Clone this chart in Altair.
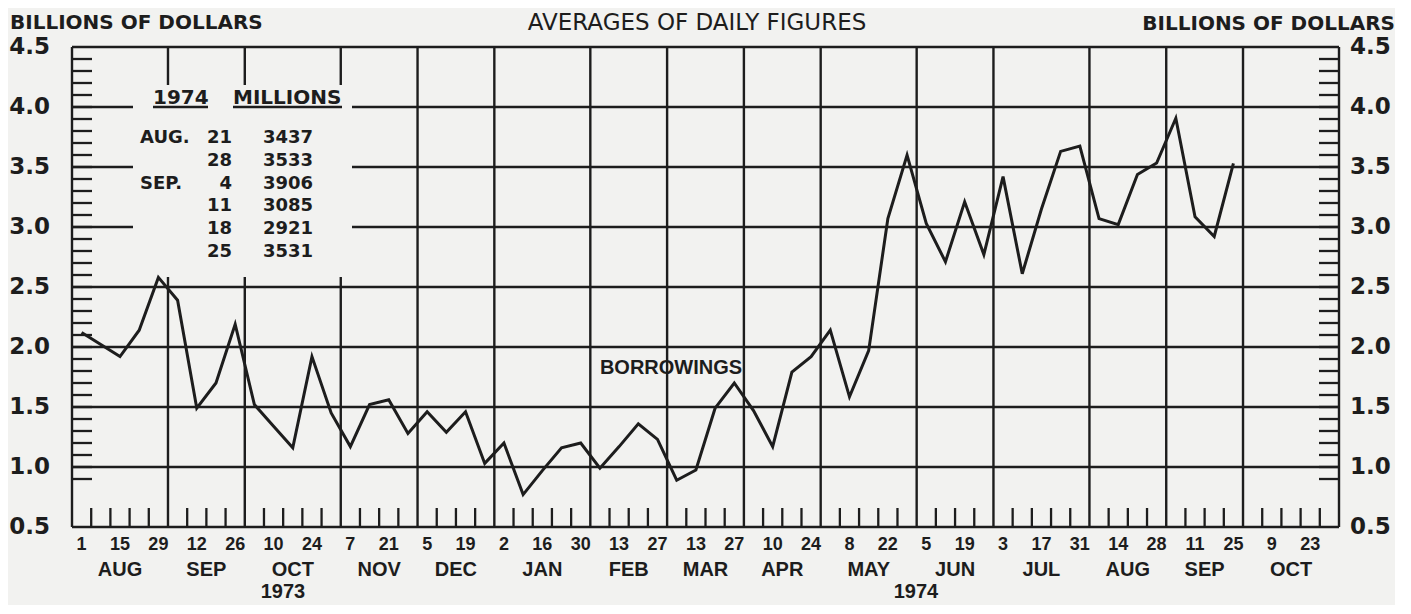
import altair as alt
import numpy as np
import pandas as pd

# ---------------------------------------------------------------- data
# Member bank borrowings, weekly averages of daily figures (billions of $),
# one value per Wednesday starting Aug 1, 1973 and ending Sep 25, 1974
BORROWINGS = [2.12, 2.02, 1.92, 2.14, 2.58, 2.39, 1.49, 1.70, 2.19, 1.52,
              1.34, 1.16, 1.92, 1.45, 1.17, 1.52, 1.56, 1.28, 1.46, 1.29,
              1.46, 1.03, 1.20, 0.77, 0.97, 1.16, 1.20, 0.99, 1.17, 1.36,
              1.23, 0.89, 0.975, 1.49, 1.70, 1.47, 1.17, 1.79, 1.92, 2.14,
              1.585, 1.97, 3.07, 3.60, 3.03, 2.71, 3.21, 2.77, 3.42, 2.61,
              3.15, 3.63, 3.675, 3.07, 3.02, 3.437, 3.533, 3.906, 3.085, 2.921,
              3.531]

MONTHS = ["AUG", "SEP", "OCT", "NOV", "DEC", "JAN", "FEB", "MAR", "APR",
          "MAY", "JUN", "JUL", "AUG", "SEP", "OCT"]
WEEKS_PER_MONTH = [5, 4, 5, 4, 4, 5, 4, 4, 4, 5, 4, 5, 4, 4, 5]
DAY_LABELS = ["1", "15", "29", "12", "26", "10", "24", "7", "21", "5", "19",
              "2", "16", "30", "13", "27", "13", "27", "10", "24", "8", "22",
              "5", "19", "3", "17", "31", "14", "28", "11", "25", "9", "23"]
YEAR_LABELS = ["1973", "1974"]
Y_TICKS = [0.5, 1.0, 1.5, 2.0, 2.5, 3.0, 3.5, 4.0, 4.5]

TABLE_HEADER = ["1974", "MILLIONS"]
TABLE_MONTH = ["AUG.", "", "SEP.", "", "", ""]
TABLE_DAY = ["21", "28", "4", "11", "18", "25"]
TABLE_MILLIONS = ["3437", "3533", "3906", "3085", "2921", "3531"]

TITLE = "AVERAGES OF DAILY FIGURES"
UNIT = "BILLIONS OF DOLLARS"
SERIES_NAME = "BORROWINGS"

# ---------------------------------------------------------------- layout
W, H = 1267, 480
N_WEEKS = sum(WEEKS_PER_MONTH)
Y0, Y1 = 0.5, 4.5
PX_X = W / N_WEEKS
PX_Y = H / (Y1 - Y0)
INK = "#1d1d1d"
BG = "#f2f2f0"


def xw(px):
    return px / PX_X


def yv(py):
    return Y1 - py / PX_Y


xs = alt.Scale(domain=[0, N_WEEKS], nice=False, zero=False)
ys = alt.Scale(domain=[Y0, Y1], nice=False, zero=False)

# gap in the grid around the inset table (plot pixels)
INSET_L, INSET_R = xw(61), xw(280)
GAP_TOP, GAP_BOT = yv(38), yv(230)

bounds = list(np.cumsum(WEEKS_PER_MONTH)[:-1])

segs = []
for lvl in [1.0, 1.5, 2.0, 2.5, 3.0, 3.5, 4.0]:
    if lvl >= 3.0:
        segs.append((0, INSET_L, lvl, lvl))
        segs.append((INSET_R, N_WEEKS, lvl, lvl))
    else:
        segs.append((0, N_WEEKS, lvl, lvl))
for b in bounds:
    if b < INSET_R:
        segs.append((b, b, Y0, GAP_BOT))
        segs.append((b, b, GAP_TOP, Y1))
    else:
        segs.append((b, b, Y0, Y1))
segs += [(0, N_WEEKS, Y0, Y0), (0, N_WEEKS, Y1, Y1), (0, 0, Y0, Y1),
         (N_WEEKS, N_WEEKS, Y0, Y1)]
# underlines of the table header
segs += [(xw(81), xw(136), 4.0, 4.0), (xw(161), xw(270), 4.0, 4.0)]
grid_df = pd.DataFrame(segs, columns=["x", "x2", "y", "y2"])

grid = alt.Chart(grid_df).mark_rule(color=INK, strokeWidth=2.4).encode(
    x=alt.X("x:Q", scale=xs, axis=None), x2="x2:Q",
    y=alt.Y("y:Q", scale=ys, axis=None), y2="y2:Q")

minor = pd.DataFrame({"y": [round(v, 1) for v in np.arange(0.9, 4.45, 0.1)]})
tick_l = alt.Chart(minor).mark_rule(color=INK, strokeWidth=2.3).encode(
    y=alt.Y("y:Q", scale=ys, axis=None), x=alt.value(0), x2=alt.value(20))
tick_r = alt.Chart(minor).mark_rule(color=INK, strokeWidth=2.3).encode(
    y=alt.Y("y:Q", scale=ys, axis=None), x=alt.value(W - 20), x2=alt.value(W))

week_ticks = pd.DataFrame({"x": [k for k in range(1, N_WEEKS) if k not in bounds]})
tick_b = alt.Chart(week_ticks).mark_rule(color=INK, strokeWidth=2.3).encode(
    x=alt.X("x:Q", scale=xs, axis=None), y=alt.value(H - 19), y2=alt.value(H))

line_df = pd.DataFrame({"x": [i + 0.5 for i in range(len(BORROWINGS))],
                        "v": BORROWINGS})
line = alt.Chart(line_df).mark_line(color=INK, strokeWidth=3,
                                    strokeJoin="miter").encode(
    x=alt.X("x:Q", scale=xs, axis=None), y=alt.Y("v:Q", scale=ys, axis=None))

ylab_df = pd.DataFrame({"y": Y_TICKS, "t": [f"{v:.1f}" for v in Y_TICKS]})
ylab_l = alt.Chart(ylab_df).mark_text(
    align="right", baseline="middle", font="DejaVu Sans", fontWeight="bold",
    fontSize=23, color=INK).encode(
    y=alt.Y("y:Q", scale=ys, axis=None), x=alt.value(-22), text="t:N")
ylab_r = alt.Chart(ylab_df).mark_text(
    align="left", baseline="middle", font="DejaVu Sans", fontWeight="bold",
    fontSize=23, color=INK).encode(
    y=alt.Y("y:Q", scale=ys, axis=None), x=alt.value(W + 11), text="t:N")

day_df = pd.DataFrame({"x": [2 * j + 0.5 for j in range(len(DAY_LABELS))],
                       "t": DAY_LABELS})
day_txt = alt.Chart(day_df).mark_text(
    align="center", baseline="middle", font="Liberation Sans",
    fontWeight="bold", fontSize=18, color=INK).encode(
    x=alt.X("x:Q", scale=xs, axis=None), y=alt.value(H + 18), text="t:N")

starts = [0] + bounds
mon_df = pd.DataFrame({"x": [s + n / 2 for s, n in zip(starts, WEEKS_PER_MONTH)],
                       "t": MONTHS})
mon_txt = alt.Chart(mon_df).mark_text(
    align="center", baseline="middle", font="Liberation Sans",
    fontWeight="bold", fontSize=20, color=INK).encode(
    x=alt.X("x:Q", scale=xs, axis=None), y=alt.value(H + 43), text="t:N")

year_df = pd.DataFrame({"x": [xw(211), xw(844)], "t": YEAR_LABELS})
year_txt = alt.Chart(year_df).mark_text(
    align="center", baseline="middle", font="Liberation Sans",
    fontWeight="bold", fontSize=20, color=INK).encode(
    x=alt.X("x:Q", scale=xs, axis=None), y=alt.value(H + 65), text="t:N")


def label(text, x, y, align, size, weight="bold", font="DejaVu Sans"):
    return alt.Chart(pd.DataFrame({"t": [text]})).mark_text(
        align=align, baseline="middle", font=font, fontWeight=weight,
        fontSize=size, color=INK).encode(
        x=alt.value(x), y=alt.value(y), text="t:N")


unit_l = label(UNIT, -62, -24, "left", 20)
unit_r = label(UNIT, 1323, -23, "right", 20)
title = label(TITLE, 625, -24, "center", 23, weight="normal")
series = label(SERIES_NAME, 599, 321, "center", 20, font="Liberation Sans")
head1 = label(TABLE_HEADER[0], 81, 51, "left", 20)
head2 = label(TABLE_HEADER[1], 161, 51, "left", 20)

rows = pd.DataFrame({"y": [yv(91 + i * 22.8) for i in range(len(TABLE_DAY))],
                     "m": TABLE_MONTH, "d": TABLE_DAY, "v": TABLE_MILLIONS})


def column(field, x, align):
    return alt.Chart(rows).mark_text(
        align=align, baseline="middle", font="DejaVu Sans", fontWeight="bold",
        fontSize=18, color=INK).encode(
        y=alt.Y("y:Q", scale=ys, axis=None), x=alt.value(x), text=f"{field}:N")


col_m = column("m", 68, "left")
col_d = column("d", 160, "right")
col_v = column("v", 241, "right")

chart = alt.layer(
    grid, tick_l, tick_r, tick_b, line, ylab_l, ylab_r, day_txt, mon_txt,
    year_txt, unit_l, unit_r, title, series, head1, head2, col_m, col_d, col_v
).properties(
    width=W, height=H, autosize="none",
    padding={"left": 64, "top": 39, "right": 56, "bottom": 78},
    background=BG,
).configure_view(strokeWidth=0)

chart.save("out.html", embed_options={"renderer": "svg", "actions": False})
